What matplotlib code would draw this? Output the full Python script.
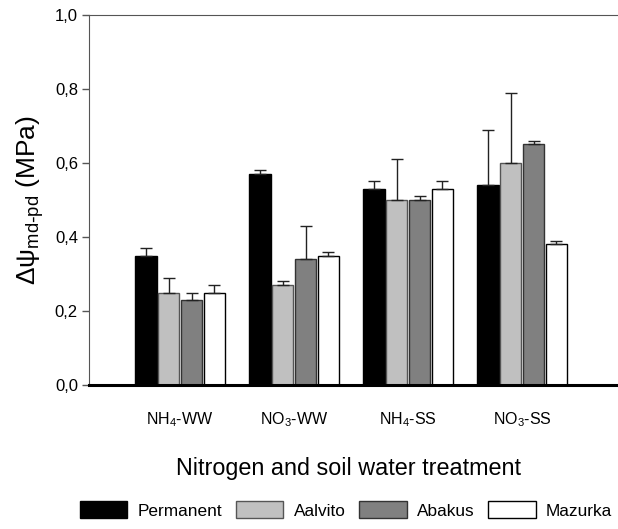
import matplotlib
matplotlib.use("Agg")
import matplotlib.pyplot as plt
import numpy as np

plt.rcParams["font.family"] = ["Liberation Sans", "DejaVu Sans"]
plt.rcParams["mathtext.default"] = "regular"

# treatments and cultivars
groups = ["NH$_4$-WW", "NO$_3$-WW", "NH$_4$-SS", "NO$_3$-SS"]
cultivars = ["Permanent", "Aalvito", "Abakus", "Mazurka"]

permanent = [0.35, 0.57, 0.53, 0.54]
aalvito = [0.25, 0.27, 0.50, 0.60]
abakus = [0.23, 0.34, 0.50, 0.65]
mazurka = [0.25, 0.35, 0.53, 0.38]

permanent_err = [0.02, 0.01, 0.02, 0.15]
aalvito_err = [0.04, 0.01, 0.11, 0.19]
abakus_err = [0.02, 0.09, 0.01, 0.01]
mazurka_err = [0.02, 0.01, 0.02, 0.01]

yticks = [0.0, 0.2, 0.4, 0.6, 0.8, 1.0]


def main():
    fig = plt.figure(figsize=(6.18, 5.29), dpi=100)
    ax = fig.add_axes([0.144, 0.272, 0.856, 0.700])

    values = [permanent, aalvito, abakus, mazurka]
    errors = [permanent_err, aalvito_err, abakus_err, mazurka_err]
    colors = ["black", "#c0c0c0", "#808080", "white"]
    edges = ["black", "#555555", "#333333", "black"]

    x = np.arange(len(groups))
    width = 0.185
    offsets = [-0.3, -0.1, 0.1, 0.3]
    for vals, errs, col, ec, off, name in zip(values, errors, colors, edges, offsets, cultivars):
        ax.bar(x + off, vals, width, color=col, edgecolor=ec, linewidth=1.0, label=name,
               yerr=[np.zeros(len(errs)), errs],
               error_kw=dict(ecolor="#222222", elinewidth=1.0, capsize=4.5, capthick=1.0))

    ax.set_xlim(-0.80, 3.84)
    ax.set_ylim(0, 1.0)
    ax.set_yticks(yticks)
    ax.set_yticklabels([("%.1f" % v).replace(".", ",") for v in yticks], fontsize=12)
    ax.set_xticks(x)
    ax.set_xticklabels(groups, fontsize=11.5)
    ax.tick_params(axis="x", length=0, pad=18)
    ax.tick_params(axis="y", direction="out", length=5, width=1, color="#555555", pad=3)

    ax.spines["right"].set_visible(False)
    ax.spines["left"].set_color("#555555")
    ax.spines["top"].set_color("#555555")
    ax.spines["bottom"].set_linewidth(2.2)
    ax.spines["bottom"].set_color("black")

    ax.set_ylabel(r"$\Delta\psi_{md\text{-}pd}$ (MPa)", fontsize=19, labelpad=6)
    ax.set_xlabel("Nitrogen and soil water treatment", fontsize=16.8)
    ax.xaxis.set_label_coords(0.49, -0.195)

    handles, labels = ax.get_legend_handles_labels()
    fig.legend(handles, labels, loc="center", bbox_to_anchor=(0.56, 0.036), ncol=4,
               frameon=False, fontsize=12.4, handlelength=2.75, handleheight=1.15,
               handletextpad=0.6, columnspacing=0.8, borderaxespad=0)

    fig.savefig("out.png", dpi=100)


if __name__ == "__main__":
    main()
